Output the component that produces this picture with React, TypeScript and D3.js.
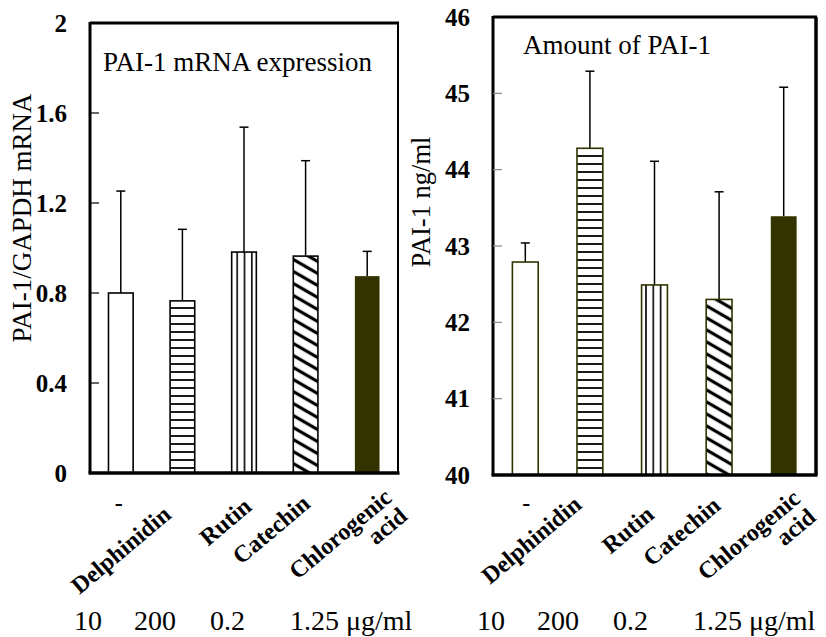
import React from "react";
import * as d3 from "d3";

// categories shared by both panels
const compounds = ["-", "Delphinidin", "Rutin", "Catechin", "Chlorogenic acid"];

// left panel: PAI-1/GAPDH mRNA
const mrnaMean = [0.8, 0.765, 0.982, 0.964, 0.875];
const mrnaSd = [0.453, 0.318, 0.555, 0.424, 0.11];
const mrnaTicks = [0, 0.4, 0.8, 1.2, 1.6, 2];

// right panel: PAI-1 ng/ml
const pai1Mean = [42.79, 44.28, 42.49, 42.3, 43.39];
const pai1Sd = [0.25, 1.01, 1.62, 1.41, 1.69];
const pai1Ticks = [40, 41, 42, 43, 44, 45, 46];

// concentrations under the axis
const doseLabels = ["10", "200", "0.2", "1.25 \u03bcg/ml"];

const FONT = "'Liberation Serif', 'Times New Roman', serif";
const OLIVE = "#333300";

// fill for each bar, in order
const fills = ["#fff", "url(#hlines)", "url(#vlines)", "url(#diag)", OLIVE];

// where each rotated label ends, relative to band centre / axis
const labelPosLeft = [
  { dx: -2, dy: 38 },
  { dx: -10, dy: 44 },
  { dx: 9, dy: 36 },
  { dx: 6, dy: 33 },
  { dx: 26, dy: 27 },
];
const labelPosRight = [
  { dx: 1, dy: 36 },
  { dx: -7, dy: 32 },
  { dx: 1, dy: 42 },
  { dx: 3, dy: 33 },
  { dx: 18, dy: 26 },
];
const doseOffset = [-16, 44, 120, 200];

type PanelProps = {
  x0: number;
  x1: number;
  y0: number;
  y1: number;
  domain: [number, number];
  ticks: number[];
  means: number[];
  sds: number[];
  title: string;
  titleX: number;
  titleY: number;
  yLabel: string;
  yLabelX: number;
  yLabelY: number;
  yLabelSize: number;
  barStroke: string;
  tickColor: string;
  rightWidth: number;
  labelPos: { dx: number; dy: number }[];
};

function Panel(p: PanelProps) {
  const x = d3
    .scaleBand<string>()
    .domain(compounds)
    .range([p.x0, p.x1])
    .paddingInner(0.6)
    .paddingOuter(0.3);
  const y = d3.scaleLinear().domain(p.domain).range([p.y1, p.y0]);
  const bw = x.bandwidth();

  return (
    <g>
      {/* frame */}
      <line x1={p.x1} x2={p.x1} y1={p.y0} y2={p.y1} stroke="#000" strokeWidth={p.rightWidth} />
      <line x1={p.x0} x2={p.x1 + 1} y1={p.y0} y2={p.y0} stroke="#000" strokeWidth={3} />

      {/* bars */}
      {compounds.map((c, i) => {
        const cx = (x(c) as number) + bw / 2;
        const top = y(p.means[i]);
        const err = y(p.means[i] + p.sds[i]);
        return (
          <g key={c}>
            <line x1={cx} x2={cx} y1={top} y2={err} stroke="#000" strokeWidth={1.5} />
            <line x1={cx - 4.5} x2={cx + 4.5} y1={err} y2={err} stroke="#000" strokeWidth={1.5} />
            <rect
              x={x(c)}
              y={top}
              width={bw}
              height={p.y1 - top}
              fill={fills[i]}
              stroke={i === 4 ? "none" : p.barStroke}
              strokeWidth={1.6}
            />
          </g>
        );
      })}

      {/* y axis */}
      <line x1={p.x0} x2={p.x0} y1={p.y0 - 1} y2={p.y1} stroke="#000" strokeWidth={3} />
      <line x1={p.x0 - 1.5} x2={p.x1 + 1.5} y1={p.y1} y2={p.y1} stroke="#000" strokeWidth={3.5} />
      {p.ticks.map((t) => (
        <g key={t}>
          {t !== p.domain[0] && t !== p.domain[1] && (
            <line x1={p.x0} x2={p.x0 + 9} y1={y(t)} y2={y(t)} stroke={p.tickColor} strokeWidth={1.2} />
          )}
          <text
            x={p.x0 - 23}
            y={y(t)}
            dy="0.35em"
            textAnchor="end"
            fontFamily={FONT}
            fontWeight="bold"
            fontSize={25}
          >
            {t}
          </text>
        </g>
      ))}

      {/* titles */}
      <text x={p.titleX} y={p.titleY} fontFamily={FONT} fontSize={27}>
        {p.title}
      </text>
      <text
        transform={`translate(${p.yLabelX},${p.yLabelY}) rotate(-90)`}
        textAnchor="middle"
        fontFamily={FONT}
        fontSize={p.yLabelSize}
      >
        {p.yLabel}
      </text>

      {/* category labels */}
      {compounds.map((c, i) => {
        const cx = (x(c) as number) + bw / 2 + p.labelPos[i].dx;
        const cy = p.y1 + p.labelPos[i].dy;
        if (c === "-") {
          return (
            <text key={c} x={cx} y={cy} textAnchor="middle" fontFamily={FONT} fontWeight="bold" fontSize={24}>
              -
            </text>
          );
        }
        const parts = c === "Chlorogenic acid" ? ["Chlorogenic", "acid"] : [c];
        return (
          <text
            key={c}
            transform={`translate(${cx},${cy}) rotate(-40)`}
            textAnchor="end"
            fontFamily={FONT}
            fontWeight="bold"
            fontSize={24}
          >
            {parts.map((s, k) => (
              <tspan key={s} x={0} dy={k === 0 ? 0 : "1.0em"}>
                {s}
              </tspan>
            ))}
          </text>
        );
      })}

      {/* doses */}
      {doseLabels.map((d, i) => (
        <text key={d} x={p.x0 + doseOffset[i]} y={630} fontFamily={FONT} fontSize={28}>
          {d}
        </text>
      ))}
    </g>
  );
}

export default function App() {
  return (
    <svg
      width={826}
      height={637}
      style={{ position: "absolute", left: 0, top: 0, background: "#fff" }}
    >
      <defs>
        <pattern id="hlines" patternUnits="userSpaceOnUse" width={8} height={8}>
          <rect width={8} height={8} fill="#fff" />
          <line x1={0} x2={8} y1={4} y2={4} stroke="#000" strokeWidth={1.8} />
        </pattern>
        <pattern id="vlines" patternUnits="userSpaceOnUse" width={7.3} height={8}>
          <rect width={7.3} height={8} fill="#fff" />
          <line x1={3.6} x2={3.6} y1={0} y2={8} stroke="#000" strokeWidth={1.6} />
        </pattern>
        <pattern
          id="diag"
          patternUnits="userSpaceOnUse"
          width={10.4}
          height={10.4}
          patternTransform="rotate(30)"
        >
          <rect width={10.4} height={10.4} fill="#fff" />
          <line x1={0} x2={10.4} y1={5.2} y2={5.2} stroke="#000" strokeWidth={3.2} />
        </pattern>
      </defs>
      <rect width={826} height={637} fill="#fff" />
      <Panel
        x0={90}
        x1={398}
        y0={23}
        y1={473}
        domain={[0, 2]}
        ticks={mrnaTicks}
        means={mrnaMean}
        sds={mrnaSd}
        title="PAI-1 mRNA expression"
        titleX={103}
        titleY={71}
        yLabel="PAI-1/GAPDH mRNA"
        yLabelX={31}
        yLabelY={218}
        yLabelSize={27}
        barStroke="#000"
        tickColor="#000"
        rightWidth={2}
        labelPos={labelPosLeft}
      />
      <Panel
        x0={493}
        x1={816}
        y0={17}
        y1={475}
        domain={[40, 46]}
        ticks={pai1Ticks}
        means={pai1Mean}
        sds={pai1Sd}
        title="Amount of PAI-1"
        titleX={523}
        titleY={54}
        yLabel="PAI-1 ng/ml"
        yLabelX={430}
        yLabelY={202}
        yLabelSize={26.5}
        barStroke={OLIVE}
        tickColor="#888"
        rightWidth={3.5}
        labelPos={labelPosRight}
      />
    </svg>
  );
}
